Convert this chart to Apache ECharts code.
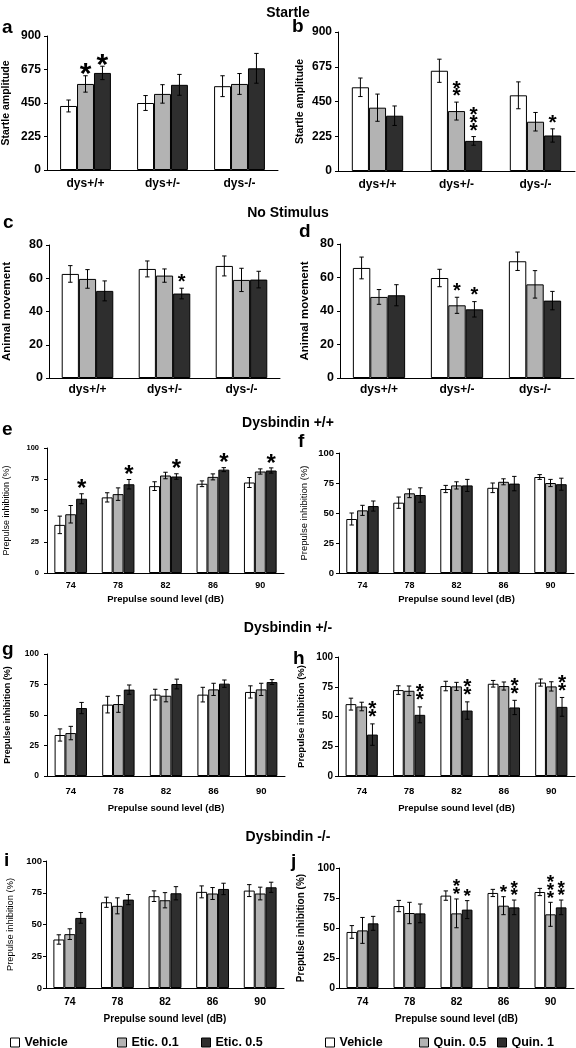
<!DOCTYPE html>
<html><head><meta charset="utf-8">
<script src="https://cdn.jsdelivr.net/npm/echarts@6/dist/echarts.min.js"></script>
<style>html,body{margin:0;padding:0;background:#fff}#c{width:576px;height:1048px}</style>
</head><body><div id="c"></div>
<script>
// ---------- DATA ----------
const genotypeCats = ['dys+/+', 'dys+/-', 'dys-/-'];
const dbCats = ['74', '78', '82', '86', '90'];
const eticNames = ['Vehicle', 'Etic. 0.1', 'Etic. 0.5'];
const quinNames = ['Vehicle', 'Quin. 0.5', 'Quin. 1'];
const sectionTitles = ['Startle', 'No Stimulus', 'Dysbindin +/+', 'Dysbindin +/-', 'Dysbindin -/-'];

// a: Startle, eticlopride
const aVehicle = [430, 450, 563], aVehicleErr = [40, 50, 70];
const aEtic01 = [578, 511, 578], aEtic01Err = [55, 62, 70];
const aEtic05 = [652, 572, 683], aEtic05Err = [45, 70, 100];
const aStars = [[0, 1, 1], [0, 2, 1]]; // [category, series, number of asterisks]
// b: Startle, quinpirole
const bVehicle = [542, 649, 490], bVehicleErr = [60, 75, 87];
const bQuin05 = [410, 388, 319], bQuin05Err = [88, 58, 60];
const bQuin1 = [358, 195, 230], bQuin1Err = [63, 28, 43];
const bStars = [[1, 1, 2], [1, 2, 3], [2, 2, 1]];
// c: No stimulus, eticlopride
const cVehicle = [62.6, 65.6, 67.4], cVehicleErr = [5, 4.8, 6];
const cEtic01 = [59.6, 61.6, 59], cEtic01Err = [5.6, 4, 7];
const cEtic05 = [52.4, 50.8, 59.2], cEtic05Err = [6, 3.2, 5];
const cStars = [[1, 2, 1]];
// d: No stimulus, quinpirole
const dVehicle = [65.7, 59.7, 69.7], dVehicleErr = [6.5, 5.2, 5.5];
const dQuin05 = [48.4, 43.4, 55.9], dQuin05Err = [4.4, 4.8, 8.2];
const dQuin1 = [49.4, 41, 46.2], dQuin1Err = [6.3, 4.6, 5.5];
const dStars = [[1, 1, 1], [1, 2, 1]];
// e: Dysbindin +/+, eticlopride
const eVehicle = [38.5, 60.5, 69.5, 71.4, 72.4], eVehicleErr = [7, 3.7, 3.5, 2.3, 4];
const eEtic01 = [47, 63.1, 78, 76.9, 81.2], eEtic01Err = [7, 5, 2.6, 2.4, 2.1];
const eEtic05 = [59.4, 71, 77.2, 82.7, 82], eEtic05Err = [4, 3.8, 2.2, 1.6, 2.1];
const eStars = [[0, 2, 1], [1, 2, 1], [2, 2, 1], [3, 2, 1], [4, 2, 1]];
// f: Dysbindin +/+, quinpirole
const fVehicle = [45, 58.6, 70, 71, 80], fVehicleErr = [5, 4.7, 3, 4, 2];
const fQuin05 = [52.2, 66.4, 73, 76, 75], fQuin05Err = [4.2, 3.6, 3, 2.5, 3];
const fQuin1 = [55.8, 65, 73, 74.5, 74], fQuin1Err = [4.2, 6, 5, 6, 5];
const fStars = [];
// g: Dysbindin +/-, eticlopride
const gVehicle = [33.6, 58.5, 66.7, 66.7, 68.9], gVehicleErr = [5, 6.8, 4.4, 6, 5];
const gEtic01 = [35.2, 59, 65.8, 71, 71], gEtic01Err = [5.5, 6.8, 5, 5, 5];
const gEtic05 = [55.7, 70.8, 75.4, 75.7, 77], gEtic05Err = [4.6, 3.8, 4, 3, 2];
const gStars = [];
// h: Dysbindin +/-, quinpirole
const hVehicle = [60.4, 72.2, 75.6, 77.5, 78.5], hVehicleErr = [5, 3.6, 4, 2.8, 3];
const hQuin05 = [58.4, 71.6, 75.3, 75.6, 75.3], hQuin05Err = [3.6, 4, 3.4, 3.4, 3.9];
const hQuin1 = [34.8, 51.4, 55, 57.6, 58.1], hQuin1Err = [9, 6.7, 7.3, 6, 7.9];
const hStars = [[0, 2, 2], [1, 2, 2], [2, 2, 2], [3, 2, 2], [4, 2, 2]];
// i: Dysbindin -/-, eticlopride
const iVehicle = [38.2, 67.5, 72.3, 75.7, 76.7], iVehicleErr = [3.7, 4, 4.2, 4.7, 4.7];
const iEtic01 = [42.4, 64.7, 69.1, 74.4, 74.4], iEtic01Err = [4.2, 6.3, 6, 4.7, 5];
const iEtic05 = [55.2, 69.6, 74.6, 78, 79.3], iEtic05Err = [4.2, 4, 5.2, 4.5, 4];
const iStars = [];
// j: Dysbindin -/-, quinpirole
const jVehicle = [46.7, 68.3, 77, 79.2, 80], jVehicleErr = [5.3, 4.7, 3.9, 3, 3];
const jQuin05 = [48, 62.5, 62.2, 68.6, 61.4], jQuin05Err = [10.8, 8.9, 12, 7.5, 10];
const jQuin1 = [53.9, 62.2, 65.3, 67.2, 67.2], jQuin1Err = [5.8, 7.8, 7.5, 6.1, 6.1];
const jStars = [[2, 1, 2], [2, 2, 1], [3, 1, 1], [3, 2, 2], [4, 1, 3], [4, 2, 2]];

// ---------- LAYOUT / STYLE ----------
const FF = '"Liberation Sans", Arial, sans-serif';
const fills = ['#ffffff', '#b3b3b3', '#2e2e2e'];
const PI = 'Prepulse inhibition (%)', PS = 'Prepulse sound level (dB)';
const panels = [
  { cats: genotypeCats, names: eticNames, vals: [aVehicle, aEtic01, aEtic05], errs: [aVehicleErr, aEtic01Err, aEtic05Err], stars: aStars,
    grid: { left: 45, top: 36, width: 233, height: 134 }, yMax: 900, yInt: 225, gap: 0.34, yName: 'Startle amplitude', yNameGap: 35, yNameFont: 10.5, yNameW: 'bold',
    yLabFont: 12, yLabMargin: 6, xFont: 12, xMargin: 8, starFont: 30, starOff: 7 },
  { cats: genotypeCats, names: quinNames, vals: [bVehicle, bQuin05, bQuin1], errs: [bVehicleErr, bQuin05Err, bQuin1Err], stars: bStars,
    grid: { left: 338, top: 32, width: 237, height: 139 }, yMax: 900, yInt: 225, gap: 0.35, yName: 'Startle amplitude', yNameGap: 32, yNameFont: 10.5, yNameW: 'bold',
    yLabFont: 12, yLabMargin: 6, xFont: 12, xMargin: 8, starFont: 21, starOff: 10 },
  { cats: genotypeCats, names: eticNames, vals: [cVehicle, cEtic01, cEtic05], errs: [cVehicleErr, cEtic01Err, cEtic05Err], stars: cStars,
    grid: { left: 47, top: 245, width: 233, height: 133 }, yMax: 80, yInt: 20, gap: 0.33, yName: 'Animal movement', yNameGap: 36, yNameFont: 11.5, yNameW: 'bold',
    yLabFont: 12.5, yLabMargin: 6, xFont: 12, xMargin: 6, starFont: 20, starOff: 10 },
  { cats: genotypeCats, names: quinNames, vals: [dVehicle, dQuin05, dQuin1], errs: [dVehicleErr, dQuin05Err, dQuin1Err], stars: dStars,
    grid: { left: 340, top: 244, width: 234, height: 134 }, yMax: 80, yInt: 20, gap: 0.33, yName: 'Animal movement', yNameGap: 29, yNameFont: 11.5, yNameW: 'bold',
    yLabFont: 12.5, yLabMargin: 6, xFont: 12, xMargin: 6, starFont: 20, starOff: 10 },
  { cats: dbCats, names: eticNames, vals: [eVehicle, eEtic01, eEtic05], errs: [eVehicleErr, eEtic01Err, eEtic05Err], stars: eStars,
    grid: { left: 47, top: 448, width: 237, height: 125 }, yMax: 100, yInt: 25, gap: 0.31, yName: PI, yNameGap: 36, yNameFont: 9, yNameW: 'normal',
    yLabFont: 7.5, yLabMargin: 8, xFont: 9, xMargin: 8, xName: PS, xNameGap: 21, xNameFont: 9.5, starFont: 24, starOff: 9 },
  { cats: dbCats, names: quinNames, vals: [fVehicle, fQuin05, fQuin1], errs: [fVehicleErr, fQuin05Err, fQuin1Err], stars: fStars,
    grid: { left: 339, top: 453, width: 235, height: 120 }, yMax: 100, yInt: 25, gap: 0.31, yName: PI, yNameGap: 30, yNameFont: 9.5, yNameW: 'normal',
    yLabFont: 9.5, yLabMargin: 5, xFont: 9, xMargin: 8, xName: PS, xNameGap: 21, xNameFont: 9.5, starFont: 20, starOff: 9 },
  { cats: dbCats, names: eticNames, vals: [gVehicle, gEtic01, gEtic05], errs: [gVehicleErr, gEtic01Err, gEtic05Err], stars: gStars,
    grid: { left: 47, top: 654, width: 238, height: 122 }, yMax: 100, yInt: 25, gap: 0.32, yName: PI, yNameGap: 35, yNameFont: 9, yNameW: 'bold',
    yLabFont: 8.5, yLabMargin: 8, xFont: 9.5, xMargin: 10, xName: PS, xNameGap: 27, xNameFont: 9.5, starFont: 20, starOff: 9 },
  { cats: dbCats, names: quinNames, vals: [hVehicle, hQuin05, hQuin1], errs: [hVehicleErr, hQuin05Err, hQuin1Err], stars: hStars,
    grid: { left: 338, top: 657, width: 237, height: 119 }, yMax: 100, yInt: 25, gap: 0.32, yName: PI, yNameGap: 32, yNameFont: 9.5, yNameW: 'bold',
    yLabFont: 10, yLabMargin: 5, xFont: 9.5, xMargin: 10, xName: PS, xNameGap: 27, xNameFont: 9.5, starFont: 21, starOff: 11 },
  { cats: dbCats, names: eticNames, vals: [iVehicle, iEtic01, iEtic05], errs: [iVehicleErr, iEtic01Err, iEtic05Err], stars: iStars,
    grid: { left: 46, top: 861, width: 238, height: 127 }, yMax: 100, yInt: 25, gap: 0.31, yName: PI, yNameGap: 31, yNameFont: 9.3, yNameW: 'normal',
    yLabFont: 9.5, yLabMargin: 4, xFont: 10.5, xMargin: 9, xName: PS, xNameGap: 26, xNameFont: 10, starFont: 20, starOff: 9 },
  { cats: dbCats, names: quinNames, vals: [jVehicle, jQuin05, jQuin1], errs: [jVehicleErr, jQuin05Err, jQuin1Err], stars: jStars,
    grid: { left: 339, top: 868, width: 235, height: 120 }, yMax: 100, yInt: 25, gap: 0.32, yName: PI, yNameGap: 33, yNameFont: 10, yNameW: 'bold',
    yLabFont: 10.5, yLabMargin: 4, xFont: 10.5, xMargin: 9, xName: PS, xNameGap: 26, xNameFont: 10, starFont: 19, starOff: 8 }
];
const letters = [
  ['a', 2, 34], ['b', 292, 33], ['c', 3, 229], ['d', 299, 238], ['e', 2, 436],
  ['f', 298, 448], ['g', 2, 656], ['h', 293, 665], ['i', 4, 867], ['j', 291, 868]
];
const titleY = [13, 213, 423, 628, 837];

// ---------- BUILD ----------
const grid = [], xAxis = [], yAxis = [], series = [];
panels.forEach((p, i) => {
  grid.push(Object.assign({ containLabel: false }, p.grid));
  xAxis.push({
    type: 'category', gridIndex: i, data: p.cats,
    axisLine: { lineStyle: { color: '#000', width: 1 } }, axisTick: { show: false },
    axisLabel: { color: '#000', fontWeight: 'bold', fontSize: p.xFont, margin: p.xMargin, fontFamily: FF },
    name: p.xName || '', nameLocation: 'middle', nameGap: p.xNameGap || 20,
    nameTextStyle: { color: '#000', fontWeight: 'bold', fontSize: p.xNameFont || 9, fontFamily: FF }
  });
  yAxis.push({
    type: 'value', gridIndex: i, min: 0, max: p.yMax, interval: p.yInt,
    splitLine: { show: false },
    axisLine: { show: true, lineStyle: { color: '#000', width: 1 } },
    axisTick: { show: true, length: 3, lineStyle: { color: '#000' } },
    axisLabel: { color: '#000', fontWeight: 'bold', fontSize: p.yLabFont, margin: p.yLabMargin, fontFamily: FF },
    name: p.yName, nameLocation: 'middle', nameGap: p.yNameGap,
    nameTextStyle: { color: '#000', fontWeight: p.yNameW, fontSize: p.yNameFont, fontFamily: FF }
  });
  for (let k = 0; k < 3; k++) {
    series.push({
      type: 'bar', name: p.names[k], xAxisIndex: i, yAxisIndex: i, data: p.vals[k],
      barGap: '0%', barCategoryGap: Math.round(p.gap * 100) + '%', silent: true,
      itemStyle: { color: fills[k], borderColor: '#000', borderWidth: 1 }
    });
  }
  const cdata = [];
  for (let k = 0; k < 3; k++) {
    p.cats.forEach((c, ci) => {
      const st = p.stars.find(s => s[0] === ci && s[1] === k);
      cdata.push([ci, k, p.vals[k][ci], p.errs[k][ci], st ? st[2] : 0]);
    });
  }
  const gapFrac = p.gap, sf = p.starFont, so = p.starOff;
  series.push({
    type: 'custom', xAxisIndex: i, yAxisIndex: i, data: cdata, clip: false, silent: true, z: 5,
    renderItem: function (params, api) {
      const ci = api.value(0), k = api.value(1), v = api.value(2), e = api.value(3), n = api.value(4);
      const bandW = api.size([1, 0])[0];
      const bw = bandW * (1 - gapFrac) / 3;
      const cx = api.coord([ci, v])[0] + (k - 1) * bw;
      const yT = api.coord([ci, v + e])[1], yB = api.coord([ci, v - e])[1];
      const cap = 2.2, ls = { stroke: '#000', lineWidth: 1 };
      const ch = [
        { type: 'line', shape: { x1: cx, y1: yT, x2: cx, y2: yB }, style: ls },
        { type: 'line', shape: { x1: cx - cap, y1: yT, x2: cx + cap, y2: yT }, style: ls },
        { type: 'line', shape: { x1: cx - cap, y1: yB, x2: cx + cap, y2: yB }, style: ls }
      ];
      for (let s = 0; s < n; s++) {
        const cy = yT - so - s * 7.7;
        ch.push({ type: 'text', style: { text: '*', x: cx, y: cy + 0.21 * sf, font: 'bold ' + sf + 'px ' + FF, fill: '#000',
          textAlign: 'center', textVerticalAlign: 'middle', align: 'center', verticalAlign: 'middle' } });
      }
      return { type: 'group', children: ch };
    }
  });
});

const graphic = [];
letters.forEach(l => {
  graphic.push({ type: 'text', x: l[1], y: l[2] - 0.35 * 19, style: { text: l[0], font: 'bold 19px ' + FF, fill: '#000',
    textAlign: 'left', textVerticalAlign: 'middle', align: 'left', verticalAlign: 'middle' } });
});
sectionTitles.forEach((t, i) => {
  graphic.push({ type: 'text', x: 288, y: titleY[i], style: { text: t, font: 'bold 14px ' + FF, fill: '#000',
    textAlign: 'center', textVerticalAlign: 'middle', align: 'center', verticalAlign: 'middle' } });
});

const legendPos = [['Vehicle', 10], ['Etic. 0.1', 117], ['Etic. 0.5', 201], ['Vehicle', 325], ['Quin. 0.5', 419], ['Quin. 1', 497]];
const legend = legendPos.map(lp => ({
  data: [lp[0]], left: lp[1], top: 1036, padding: 0, itemGap: 0, itemWidth: 9, itemHeight: 9, icon: 'rect',
  selectedMode: false, itemStyle: { borderColor: '#000', borderWidth: 1 },
  textStyle: { color: '#000', fontWeight: 'bold', fontSize: 12.5, fontFamily: FF }
}));

const chart = echarts.init(document.getElementById('c'), null, { renderer: 'canvas' });
chart.setOption({ animation: false, backgroundColor: '#fff', grid, xAxis, yAxis, series, graphic, legend });
</script></body></html>
